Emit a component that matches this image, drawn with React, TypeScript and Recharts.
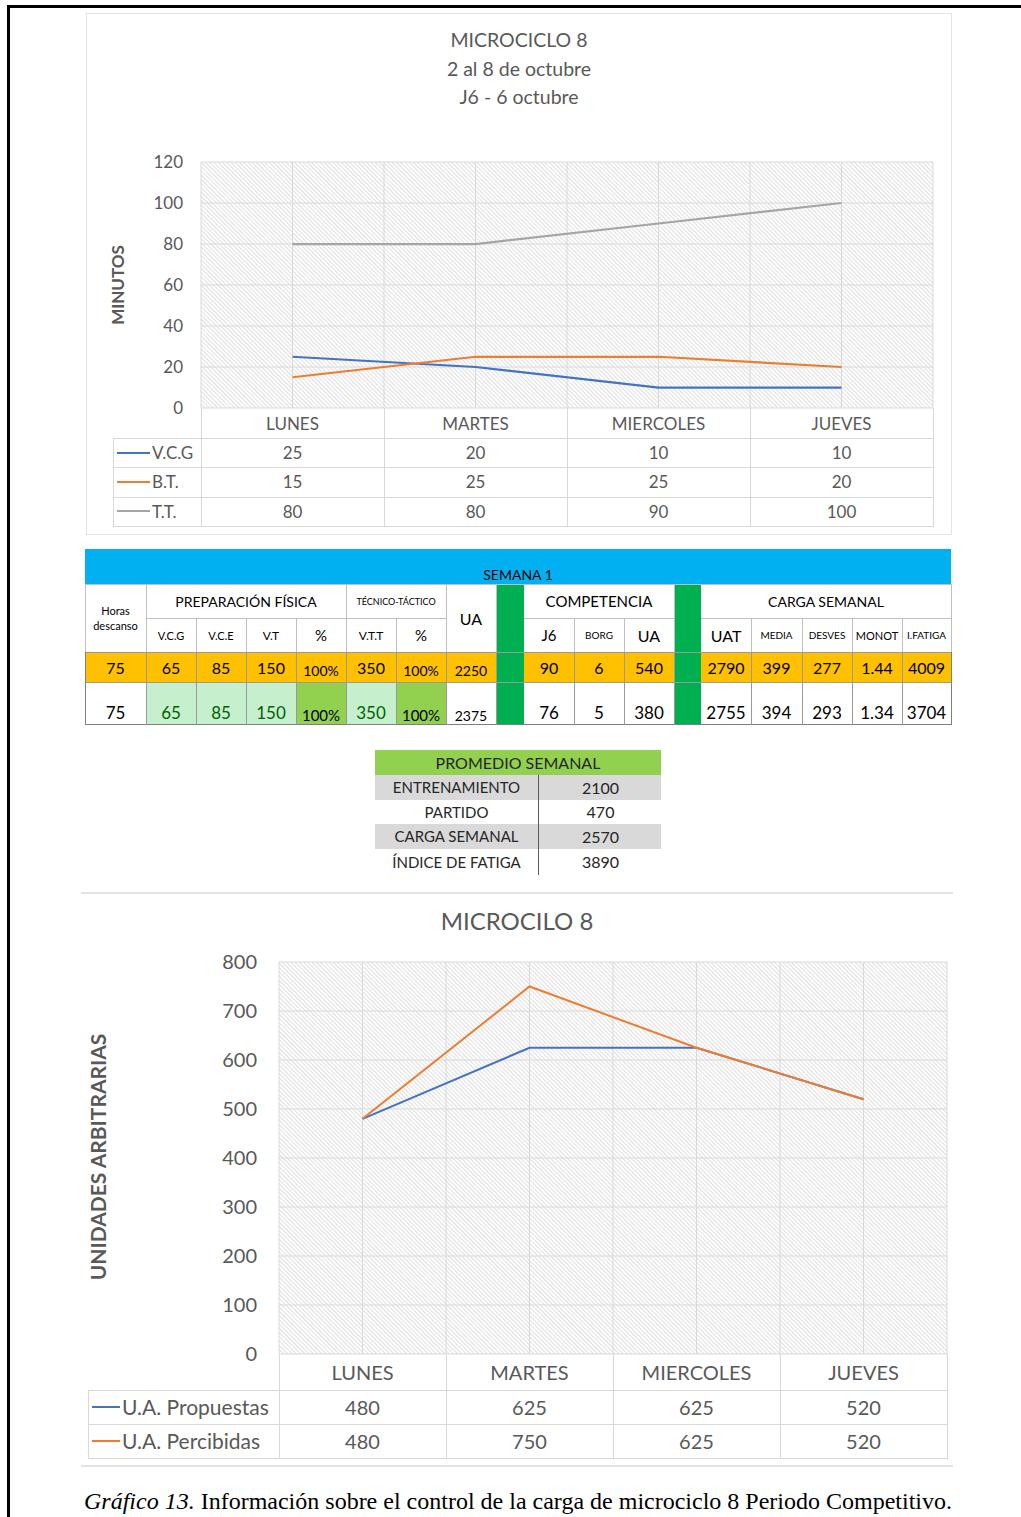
import React from 'react';
import { LineChart, Line, XAxis, YAxis, CartesianGrid } from 'recharts';

// ---------- DATA ----------
const days = ['LUNES', 'MARTES', 'MIERCOLES', 'JUEVES'];
const vcgMinutes = [25, 20, 10, 10];
const btMinutes = [15, 25, 25, 20];
const ttMinutes = [80, 80, 90, 100];
const minutesTicks = [0, 20, 40, 60, 80, 100, 120];
const topTitleLines = ['MICROCICLO 8', '2 al 8 de octubre', 'J6 - 6 octubre'];
const topSeriesNames = ['V.C.G', 'B.T.', 'T.T.'];
const topSeriesKeys = ['vcg', 'bt', 'tt'];

const uaPropuestas = [480, 625, 625, 520];
const uaPercibidas = [480, 750, 625, 520];
const uaTicks = [0, 100, 200, 300, 400, 500, 600, 700, 800];
const bottomTitle = 'MICROCILO 8';
const bottomSeriesNames = ['U.A. Propuestas', 'U.A. Percibidas'];
const bottomSeriesKeys = ['prop', 'perc'];

const semanaTitle = 'SEMANA 1';
const groupLabels = ['Horas descanso', 'PREPARACIÓN FÍSICA', 'TÉCNICO-TÁCTICO', 'UA', 'COMPETENCIA', 'CARGA SEMANAL'];
const subHeaders = ['V.C.G', 'V.C.E', 'V.T', '%', 'V.T.T', '%', 'J6', 'BORG', 'UA', 'UAT', 'MEDIA', 'DESVES', 'MONOT', 'I.FATIGA'];
const plannedRow = ['75', '65', '85', '150', '100%', '350', '100%', '2250', '90', '6', '540', '2790', '399', '277', '1.44', '4009'];
const actualRow = ['75', '65', '85', '150', '100%', '350', '100%', '2375', '76', '5', '380', '2755', '394', '293', '1.34', '3704'];

const promedioTitle = 'PROMEDIO SEMANAL';
const promedioLabels = ['ENTRENAMIENTO', 'PARTIDO', 'CARGA SEMANAL', 'ÍNDICE DE FATIGA'];
const promedioValues = ['2100', '470', '2570', '3890'];

const captionItalic = 'Gráfico 13.';
const captionText = ' Información sobre el control de la carga de microciclo 8 Periodo Competitivo.';

// ---------- STYLE / LAYOUT ----------
const FONT = 'Lato, "Open Sans", sans-serif';
const GRAY = '#595959';
const GRID = '#d9d9d9';
const topColors = ['#4472C4', '#ED7D31', '#A5A5A5'];
const bottomColors = ['#4472C4', '#ED7D31'];

const TOP = { left: 201, right: 933, top: 162, bottom: 408 };
const BOT = { left: 279, right: 947, top: 962, bottom: 1354 };

const topData = days.map((d, i) => ({ day: d, vcg: vcgMinutes[i], bt: btMinutes[i], tt: ttMinutes[i] }));
const bottomData = days.map((d, i) => ({ day: d, prop: uaPropuestas[i], perc: uaPercibidas[i] }));
const topValues = [vcgMinutes, btMinutes, ttMinutes];
const bottomValues = [uaPropuestas, uaPercibidas];

const halfBandGen = (plot: any) => (props: any) => {
  const off = props && props.offset;
  const l = off ? off.left : plot.left;
  const w = off ? off.width : plot.right - plot.left;
  return Array.from({ length: 9 }, (_, i) => l + (w * i) / 8);
};

const abs = (l: number, t: number, w: number, h: number): React.CSSProperties => ({
  position: 'absolute', left: l, top: t, width: w, height: h, boxSizing: 'border-box',
});

const HLine = ({ x1, x2, y, c = GRID, t = 1 }: any) => <div style={{ ...abs(x1, y, x2 - x1, t), background: c }} />;
const VLine = ({ y1, y2, x, c = GRID, t = 1 }: any) => <div style={{ ...abs(x, y1, t, y2 - y1), background: c }} />;

function ChartTable({ plot, legendLeft, headerH, rowH, names, colors, values, fontSize, legendFs, lineW }: any) {
  const colW = (plot.right - plot.left) / 4;
  const els: any[] = [];
  const y0 = plot.bottom + headerH;
  const yEnd = y0 + rowH * names.length;
  for (let i = 0; i <= 4; i++) els.push(<VLine key={'v' + i} x={plot.left + colW * i} y1={plot.bottom} y2={yEnd} />);
  els.push(<VLine key="vl" x={legendLeft} y1={y0} y2={yEnd} />);
  for (let r = 0; r <= names.length; r++) els.push(<HLine key={'h' + r} x1={legendLeft} x2={plot.right + 1} y={y0 + rowH * r} />);
  names.forEach((n: string, r: number) => {
    const yc = y0 + rowH * r + rowH / 2;
    els.push(<div key={'ll' + r} style={{ ...abs(legendLeft + 4, yc - 1, lineW, 2), background: colors[r] }} />);
    els.push(
      <div key={'ln' + r} style={{ position: 'absolute', left: legendLeft + 4 + lineW + 2, top: yc - rowH / 2, height: rowH, lineHeight: rowH + 'px', fontSize: legendFs, color: GRAY, whiteSpace: 'nowrap' }}>{n}</div>
    );
    values[r].forEach((v: number, c: number) => {
      els.push(
        <div key={'c' + r + '_' + c} style={{ ...abs(plot.left + colW * c, yc - rowH / 2, colW, rowH), lineHeight: rowH + 'px', textAlign: 'center', fontSize, color: GRAY }}>{v}</div>
      );
    });
  });
  return <>{els}</>;
}

// semana table layout
const colX = [85, 146, 196, 246, 296, 346, 396, 446, 496, 524, 574, 624, 674, 701, 751, 802, 852, 902, 951];
const dataCols = [0, 1, 2, 3, 4, 5, 6, 7, 9, 10, 11, 13, 14, 15, 16, 17];
const subCols = [1, 2, 3, 4, 5, 6, 9, 10, 11, 13, 14, 15, 16, 17];
const subFs = [11, 11, 12, 15, 12, 15, 15, 10, 16, 16, 10, 10, 11, 10];
const groupSpans = [[0, 1, 2, 11], [1, 5, 1, 14], [5, 7, 1, 9], [7, 8, 2, 16], [9, 12, 1, 15], [13, 18, 1, 14]];
const Y_BLUE = 549, Y_H1 = 584, Y_H2 = 618, Y_OR = 652, Y_WH = 682, Y_END = 725;
const BORDER = '#bfbfbf';

function SemanaTable() {
  const els: any[] = [];
  els.push(
    <div key="blue" style={{ ...abs(85, Y_BLUE, 951 - 85, Y_H1 - Y_BLUE), background: '#00B0F0', display: 'flex', alignItems: 'flex-end', justifyContent: 'center', fontSize: 14, color: '#000', paddingBottom: 1 }}>{semanaTitle}</div>
  );
  groupSpans.forEach(([c0, c1, rows, fs], i) => {
    const h = rows === 2 ? Y_OR - Y_H1 : Y_H2 - Y_H1;
    els.push(
      <div key={'g' + i} style={{ ...abs(colX[c0], Y_H1, colX[c1] - colX[c0], h), display: 'flex', alignItems: 'center', justifyContent: 'center', textAlign: 'center', fontSize: fs, lineHeight: i === 0 ? '15px' : 'normal', color: '#000', background: '#fff', padding: i === 0 ? '0 4px' : 0 }}>{groupLabels[i]}</div>
    );
  });
  subHeaders.forEach((s, i) => {
    const c = subCols[i];
    els.push(
      <div key={'s' + i} style={{ ...abs(colX[c], Y_H2, colX[c + 1] - colX[c], Y_OR - Y_H2), display: 'flex', alignItems: 'center', justifyContent: 'center', fontSize: subFs[i], color: '#000', background: '#fff' }}>{s}</div>
    );
  });
  [8, 12].forEach((c) => els.push(<div key={'gs' + c} style={{ ...abs(colX[c], Y_H1, colX[c + 1] - colX[c], Y_END - Y_H1), background: '#00B050' }} />));
  plannedRow.forEach((v, i) => {
    const c = dataCols[i];
    const small = v.includes('%') || i === 7;
    els.push(
      <div key={'o' + i} style={{ ...abs(colX[c], Y_OR, colX[c + 1] - colX[c], Y_WH - Y_OR), background: '#FFC000', display: 'flex', alignItems: small ? 'flex-end' : 'center', justifyContent: 'center', fontSize: small ? 14 : 16, color: '#000', paddingBottom: small ? 3 : 0 }}>{v}</div>
    );
  });
  actualRow.forEach((v, i) => {
    const c = dataCols[i];
    const lightGreen = i >= 1 && i <= 5 && i !== 4;
    const pct = v.includes('%');
    const bg = pct ? '#92D050' : lightGreen ? '#C6EFCE' : '#fff';
    const col = lightGreen ? '#006100' : '#000';
    const fs = pct ? 15 : i === 7 ? 14 : 17;
    els.push(
      <div key={'a' + i} style={{ ...abs(colX[c], Y_WH, colX[c + 1] - colX[c], Y_END - Y_WH), background: bg, display: 'flex', alignItems: 'flex-end', justifyContent: 'center', fontSize: fs, color: col, paddingBottom: pct || i === 7 ? 1 : 2 }}>{v}</div>
    );
  });
  els.push(<HLine key="b1" x1={85} x2={951} y={Y_H1} c={BORDER} />);
  els.push(<HLine key="b2a" x1={146} x2={446} y={Y_H2} c={BORDER} />);
  els.push(<HLine key="b2b" x1={524} x2={674} y={Y_H2} c={BORDER} />);
  els.push(<HLine key="b2c" x1={701} x2={951} y={Y_H2} c={BORDER} />);
  els.push(<HLine key="b3" x1={85} x2={951} y={Y_OR} c={'#9a9a9a'} />);
  els.push(<HLine key="b4" x1={85} x2={951} y={Y_WH} c={'#9a9a9a'} />);
  els.push(<HLine key="b5" x1={85} x2={952} y={Y_END - 1} c={'#7f7f7f'} />);
  colX.forEach((x, i) => {
    if (i === 9 || i === 13) return;
    const full = [0, 1, 5, 7, 8, 12, 18].includes(i);
    els.push(<VLine key={'vx' + i} x={x} y1={full ? Y_H1 : Y_H2} y2={Y_OR} c={BORDER} />);
    els.push(<VLine key={'vy' + i} x={x} y1={Y_OR} y2={Y_END} c={i === 0 || i === 18 ? '#7f7f7f' : '#9a9a9a'} />);
  });
  return <>{els}</>;
}

function PromedioTable() {
  const L = 375, R = 661, MID = 538, TOPY = 750, HH = 25;
  const rowYs = [775, 800, 824, 849, 875];
  const els: any[] = [];
  els.push(<div key="ph" style={{ ...abs(L, TOPY, R - L, HH), background: '#92D050', textAlign: 'center', lineHeight: HH + 'px', fontSize: 16, color: '#262626' }}>{promedioTitle}</div>);
  promedioLabels.forEach((lab, i) => {
    const y = rowYs[i], h = rowYs[i + 1] - rowYs[i];
    const bg = i % 2 === 0 ? '#D9D9D9' : '#fff';
    els.push(<div key={'pl' + i} style={{ ...abs(L, y, MID - L, h), background: bg, textAlign: 'center', lineHeight: h + 'px', fontSize: 15, color: '#262626' }}>{lab}</div>);
    els.push(<div key={'pv' + i} style={{ ...abs(MID, y, R - MID, h), background: bg, textAlign: 'center', lineHeight: h + 'px', fontSize: 16, color: '#262626', paddingLeft: 2 }}>{promedioValues[i]}</div>);
  });
  els.push(<VLine key="pd" x={MID} y1={rowYs[0]} y2={rowYs[4]} c="#595959" />);
  return <>{els}</>;
}

const TOP_H = 540;
const BOT_TOPY = 880;
const BOT_H = 620;

export default function App() {
  return (
    <div style={{ position: 'absolute', left: 0, top: 0, width: 1021, height: 1517, background: '#fff', fontFamily: FONT, overflow: 'hidden' }}>
      <svg width={0} height={0} style={{ position: 'absolute' }}>
        <defs>
          <pattern id="hatch" patternUnits="userSpaceOnUse" width={3} height={3} patternTransform="rotate(-45)">
            <rect width={3} height={3} fill="#ffffff" />
            <line x1={0.5} y1={0} x2={0.5} y2={3} stroke="#dedede" strokeWidth={1} />
          </pattern>
        </defs>
      </svg>

      {/* black page border */}
      <div style={{ ...abs(7, 5, 1014, 3), background: '#000' }} />
      <div style={{ ...abs(7, 5, 3, 1512), background: '#000' }} />

      {/* top chart frame */}
      <div style={{ ...abs(86, 13, 866, 522), border: '1.5px solid #e3e3e3' }} />
      {topTitleLines.map((t, i) => (
        <div key={t} style={{ position: 'absolute', left: 86, width: 866, top: 27 + i * 28.5, textAlign: 'center', fontSize: 19.5, lineHeight: '26px', color: GRAY }}>{t}</div>
      ))}
      <div style={{ position: 'absolute', left: 118 - 60, top: 285 - 12, width: 120, height: 24, lineHeight: '24px', textAlign: 'center', transform: 'rotate(-90deg)', fontWeight: 700, fontSize: 17, color: GRAY }}>MINUTOS</div>

      <div style={{ position: 'absolute', left: 0, top: 0 }}>
        <LineChart width={1021} height={TOP_H} data={topData} margin={{ top: TOP.top, right: 1021 - TOP.right, bottom: TOP_H - TOP.bottom - 30, left: TOP.left - 60 }}>
          <CartesianGrid stroke={GRID} fill="url(#hatch)" fillOpacity={1} verticalCoordinatesGenerator={halfBandGen(TOP)} />
          <XAxis dataKey="day" padding={{ left: (TOP.right - TOP.left) / 8, right: (TOP.right - TOP.left) / 8 }} axisLine={false} tickLine={false} tickSize={0} tickMargin={10} height={30} interval={0} tick={{ fill: GRAY, fontSize: 17, fontFamily: FONT }} />
          <YAxis domain={[0, 120]} ticks={minutesTicks} width={60} axisLine={false} tickLine={false} tickSize={0} tickMargin={18} interval={0} tick={{ fill: GRAY, fontSize: 17, fontFamily: FONT }} />
          {topSeriesKeys.map((k, i) => (
            <Line key={k} type="linear" dataKey={k} name={topSeriesNames[i]} stroke={topColors[i]} strokeWidth={2.25} dot={false} activeDot={false} isAnimationActive={false} />
          ))}
        </LineChart>
      </div>
      <ChartTable plot={TOP} legendLeft={113} headerH={30} rowH={29.3} names={topSeriesNames} colors={topColors} values={topValues} fontSize={17} legendFs={17} lineW={33} />

      <SemanaTable />
      <PromedioTable />

      {/* bottom chart */}
      <HLine x1={81} x2={953} y={892} c="#e3e3e3" t={2} />
      <HLine x1={81} x2={953} y={1465} c="#e3e3e3" t={2} />
      <div style={{ position: 'absolute', left: 81, width: 872, top: 905, textAlign: 'center', fontSize: 24, lineHeight: '32px', color: GRAY }}>{bottomTitle}</div>
      <div style={{ position: 'absolute', left: 98 - 150, top: 1157 - 14, width: 300, height: 28, lineHeight: '28px', textAlign: 'center', transform: 'rotate(-90deg)', fontWeight: 700, fontSize: 21, color: GRAY, whiteSpace: 'nowrap' }}>UNIDADES ARBITRARIAS</div>

      <div style={{ position: 'absolute', left: 0, top: BOT_TOPY }}>
        <LineChart width={1021} height={BOT_H} data={bottomData} margin={{ top: BOT.top - BOT_TOPY, right: 1021 - BOT.right, bottom: BOT_TOPY + BOT_H - BOT.bottom - 36, left: BOT.left - 80 }}>
          <CartesianGrid stroke={GRID} fill="url(#hatch)" fillOpacity={1} verticalCoordinatesGenerator={halfBandGen({ left: BOT.left, right: BOT.right })} />
          <XAxis dataKey="day" padding={{ left: (BOT.right - BOT.left) / 8, right: (BOT.right - BOT.left) / 8 }} axisLine={false} tickLine={false} tickSize={0} tickMargin={12} height={36} interval={0} tick={{ fill: GRAY, fontSize: 20, fontFamily: FONT }} />
          <YAxis domain={[0, 800]} ticks={uaTicks} width={80} axisLine={false} tickLine={false} tickSize={0} tickMargin={22} interval={0} tick={{ fill: GRAY, fontSize: 20, fontFamily: FONT }} />
          {bottomSeriesKeys.map((k, i) => (
            <Line key={k} type="linear" dataKey={k} name={bottomSeriesNames[i]} stroke={bottomColors[i]} strokeWidth={2} dot={false} activeDot={false} isAnimationActive={false} />
          ))}
        </LineChart>
      </div>
      <ChartTable plot={BOT} legendLeft={88} headerH={36} rowH={34} names={bottomSeriesNames} colors={bottomColors} values={bottomValues} fontSize={20} legendFs={21} lineW={28} />

      <div style={{ position: 'absolute', left: 84, top: 1486, fontFamily: '"Liberation Serif", "Times New Roman", serif', fontSize: 24, lineHeight: '30px', color: '#000', whiteSpace: 'nowrap' }}>
        <i>{captionItalic}</i>{captionText}
      </div>
    </div>
  );
}
